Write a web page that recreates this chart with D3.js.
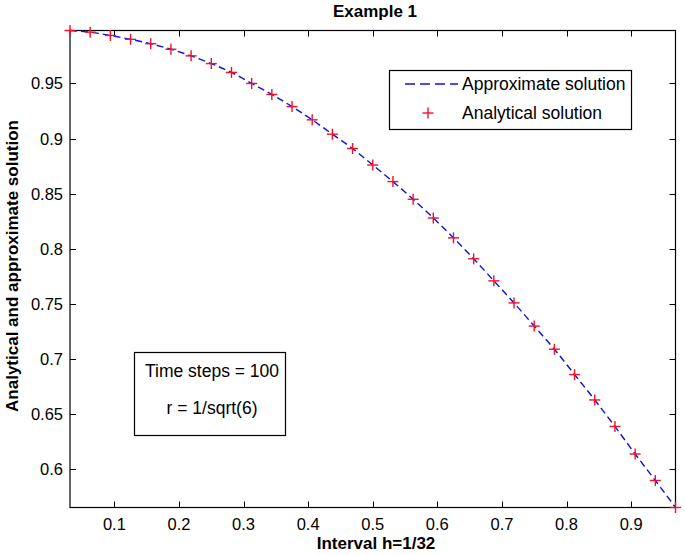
<!DOCTYPE html>
<html>
<head>
<meta charset="utf-8">
<script src="https://cdn.jsdelivr.net/npm/d3@7"></script>
<style>
  body { margin: 0; background: #fff; }
  svg { display: block; font-family: "Liberation Sans", Arial, sans-serif; }
</style>
</head>
<body>
<div id="chart"></div>
<script>
// grid points, h = 1/32
const xValues = [0.03125, 0.0625, 0.09375, 0.125, 0.15625, 0.1875, 0.21875, 0.25,
  0.28125, 0.3125, 0.34375, 0.375, 0.40625, 0.4375, 0.46875, 0.5,
  0.53125, 0.5625, 0.59375, 0.625, 0.65625, 0.6875, 0.71875, 0.75,
  0.78125, 0.8125, 0.84375, 0.875, 0.90625, 0.9375, 0.96875];

// values
const analytical = [0.998, 0.9965, 0.9935, 0.990, 0.986, 0.981, 0.975, 0.968,
  0.960, 0.950, 0.940, 0.929, 0.917, 0.904, 0.891, 0.876,
  0.861, 0.845, 0.828, 0.810, 0.791, 0.771, 0.751, 0.730,
  0.709, 0.686, 0.663, 0.639, 0.614, 0.590, 0.5655];
const approximate = [0.998, 0.9965, 0.9935, 0.990, 0.986, 0.981, 0.975, 0.968,
  0.960, 0.950, 0.940, 0.929, 0.917, 0.904, 0.891, 0.876,
  0.861, 0.845, 0.828, 0.810, 0.791, 0.771, 0.751, 0.730,
  0.709, 0.686, 0.663, 0.639, 0.614, 0.590, 0.5655];

const xTicks = [0.1, 0.2, 0.3, 0.4, 0.5, 0.6, 0.7, 0.8, 0.9];
const xTickLabels = ['0.1', '0.2', '0.3', '0.4', '0.5', '0.6', '0.7', '0.8', '0.9'];
const yTicks = [0.6, 0.65, 0.7, 0.75, 0.8, 0.85, 0.9, 0.95];
const yTickLabels = ['0.6', '0.65', '0.7', '0.75', '0.8', '0.85', '0.9', '0.95'];

const seriesNames = ['Approximate solution', 'Analytical solution'];
const noteLines = ['Time steps = 100', 'r = 1/sqrt(6)'];

const width = 685, height = 555;
const plot = { left: 70, right: 675.5, top: 30.5, bottom: 507.5 };

const svg = d3.select('#chart').append('svg')
  .attr('width', width)
  .attr('height', height);

const x = d3.scaleLinear()
  .domain([xValues[0], xValues[xValues.length - 1]])
  .range([plot.left, plot.right]);
const y = d3.scaleLinear()
  .domain(d3.extent(analytical))
  .range([plot.bottom, plot.top]);

// ticks (inward, on all four sides like matlab)
const tickLen = 6;
const ticks = svg.append('g').attr('stroke', '#000').attr('stroke-width', 1);
xTicks.forEach(t => {
  const px = Math.round(x(t)) + 0.5;
  ticks.append('line').attr('x1', px).attr('x2', px)
    .attr('y1', plot.bottom).attr('y2', plot.bottom - tickLen);
  ticks.append('line').attr('x1', px).attr('x2', px)
    .attr('y1', plot.top).attr('y2', plot.top + tickLen);
});
yTicks.forEach(t => {
  const py = Math.round(y(t)) + 0.5;
  ticks.append('line').attr('x1', plot.left).attr('x2', plot.left + tickLen)
    .attr('y1', py).attr('y2', py);
  ticks.append('line').attr('x1', plot.right).attr('x2', plot.right - tickLen)
    .attr('y1', py).attr('y2', py);
});

// tick labels
svg.append('g').selectAll('text')
  .data(xTicks)
  .join('text')
  .attr('x', d => x(d))
  .attr('y', 530)
  .attr('text-anchor', 'middle')
  .style('font-size', '16.5px')
  .text((d, i) => xTickLabels[i]);

svg.append('g').selectAll('text')
  .data(yTicks)
  .join('text')
  .attr('x', 63)
  .attr('y', d => y(d) + 6)
  .attr('text-anchor', 'end')
  .style('font-size', '16.5px')
  .text((d, i) => yTickLabels[i]);

// axes box
svg.append('rect')
  .attr('x', plot.left).attr('y', plot.top)
  .attr('width', plot.right - plot.left)
  .attr('height', plot.bottom - plot.top)
  .attr('fill', 'none')
  .attr('stroke', '#000')
  .attr('stroke-width', 1.2);

// approximate solution, dashed blue
const line = d3.line()
  .x((d, i) => x(xValues[i]))
  .y(d => y(d))
  .curve(d3.curveMonotoneX);

svg.append('path')
  .datum(approximate)
  .attr('d', line)
  .attr('fill', 'none')
  .attr('stroke', '#1010e0')
  .attr('stroke-width', 1.4)
  .attr('stroke-dasharray', '7,4');

// analytical solution, red plus markers
const plusSize = 5.5;
const marks = svg.append('g')
  .attr('stroke', '#f0102a')
  .attr('stroke-width', 1.4);
analytical.forEach((v, i) => {
  const cx = x(xValues[i]), cy = y(v);
  marks.append('line').attr('x1', cx - plusSize).attr('x2', cx + plusSize)
    .attr('y1', cy).attr('y2', cy);
  marks.append('line').attr('x1', cx).attr('x2', cx)
    .attr('y1', cy - plusSize).attr('y2', cy + plusSize);
});

// legend
const legend = svg.append('g');
legend.append('rect')
  .attr('x', 389.5).attr('y', 70.5)
  .attr('width', 242).attr('height', 59)
  .attr('fill', '#fff')
  .attr('stroke', '#000')
  .attr('stroke-width', 1.2);
legend.append('line')
  .attr('x1', 405).attr('x2', 458)
  .attr('y1', 84).attr('y2', 84)
  .attr('stroke', '#1010e0')
  .attr('stroke-width', 1.4)
  .attr('stroke-dasharray', '10,5');
legend.append('line')
  .attr('x1', 428 - plusSize).attr('x2', 428 + plusSize)
  .attr('y1', 113).attr('y2', 113)
  .attr('stroke', '#f0102a').attr('stroke-width', 1.4);
legend.append('line')
  .attr('x1', 428).attr('x2', 428)
  .attr('y1', 113 - plusSize).attr('y2', 113 + plusSize)
  .attr('stroke', '#f0102a').attr('stroke-width', 1.4);
legend.selectAll('text.leg')
  .data(seriesNames)
  .join('text')
  .attr('class', 'leg')
  .attr('x', 462)
  .attr('y', (d, i) => 90 + i * 29)
  .style('font-size', '17.5px')
  .text(d => d);

// text box
const note = svg.append('g');
note.append('rect')
  .attr('x', 134.5).attr('y', 352.5)
  .attr('width', 151).attr('height', 83)
  .attr('fill', '#fff')
  .attr('stroke', '#000')
  .attr('stroke-width', 1.2);
note.selectAll('text')
  .data(noteLines)
  .join('text')
  .attr('x', 212)
  .attr('y', (d, i) => 377 + i * 37)
  .attr('text-anchor', 'middle')
  .style('font-size', '17.5px')
  .text(d => d);

// title and axis labels
svg.append('text')
  .attr('x', 375).attr('y', 17)
  .attr('text-anchor', 'middle')
  .style('font-size', '17px')
  .style('font-weight', 'bold')
  .text('Example 1');

svg.append('text')
  .attr('x', 376).attr('y', 549)
  .attr('text-anchor', 'middle')
  .style('font-size', '17px')
  .style('font-weight', 'bold')
  .text('Interval h=1/32');

svg.append('text')
  .attr('transform', 'translate(18,266) rotate(-90)')
  .attr('text-anchor', 'middle')
  .style('font-size', '17px')
  .style('font-weight', 'bold')
  .text('Analytical and approximate solution');
</script>
</body>
</html>
